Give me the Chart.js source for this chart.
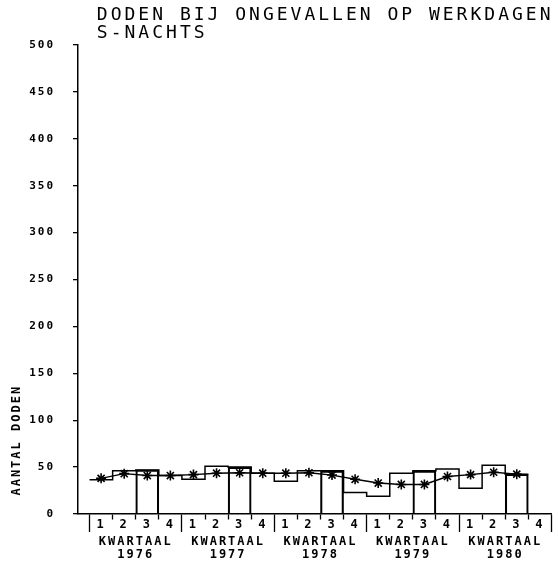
<!DOCTYPE html>
<html>
<head>
<meta charset="utf-8">
<script src="https://cdn.jsdelivr.net/npm/chart.js"></script>
<style>
html,body{margin:0;padding:0;background:#fff;}
canvas{display:block;}
</style>
</head>
<body>
<canvas id="c" width="558" height="562"></canvas>
<script>
// ---- data ----
const years = ['1976', '1977', '1978', '1979', '1980'];
const quarterLabels = ['1','2','3','4','1','2','3','4','1','2','3','4','1','2','3','4','1','2','3','4'];
// quarterly deaths (stepped line)
const quarterly = [36.5, 46, 47, 41,  37, 51, 50, 43.5,  35, 46, 46, 23,  19, 43.5, 46, 48,  27.5, 52, 42.5];
// smoothed trend (asterisks)
const smoothed  = [38, 43, 41, 41,  42, 43.5, 44, 43.5,  43.5, 44, 41.5, 37,  33, 31.5, 31.5, 40,  42, 44.5, 42.5];
const highlightQuarter = '3';
const yTickValues = [0, 50, 100, 150, 200, 250, 300, 350, 400, 450, 500];
const titleLines = ['DODEN BIJ ONGEVALLEN OP WERKDAGEN', 'S-NACHTS'];
const yTitle = 'AANTAL DODEN';
const groupLabel = 'KWARTAAL';

// ---- derived datasets ----
const stepPoints = quarterly.map((v, i) => ({x: i, y: v}))
  .concat([{x: quarterly.length, y: quarterly[quarterly.length - 1]}]);
const starPoints = smoothed.map((v, i) => ({x: i + 0.5, y: v}));
const boxPoints = quarterly.map((v, i) => quarterLabels[i] === highlightQuarter ? {x: i + 0.5, y: v} : null)
  .filter(p => p !== null);

const spacingPlugin = {
  id: 'letterSpacing',
  beforeDraw(chart) { chart.ctx.letterSpacing = '3px'; },
  afterDatasetsDraw(chart) { chart.ctx.letterSpacing = '2px'; },
  afterDraw(chart) { chart.ctx.letterSpacing = '0px'; }
};

Chart.defaults.font.family = "'DejaVu Sans Mono', monospace";
Chart.defaults.color = '#000';

new Chart(document.getElementById('c'), {
  type: 'line',
  data: {
    datasets: [
      {
        type: 'line', data: stepPoints, stepped: true,
        borderColor: '#000', borderWidth: 1.5, pointRadius: 0, fill: false
      },
      {
        type: 'line', data: starPoints,
        borderColor: '#000', borderWidth: 1.4, tension: 0, fill: false,
        pointStyle: 'star', pointRadius: 5, pointBorderWidth: 1.6,
        pointBorderColor: '#000', pointBackgroundColor: '#000'
      },
      {
        type: 'bar', data: boxPoints,
        backgroundColor: 'rgba(0,0,0,0)', borderColor: '#000', borderWidth: 1.5,
        barPercentage: 1, categoryPercentage: 1, borderSkipped: 'start'
      }
    ]
  },
  options: {
    responsive: false,
    animation: false,
    devicePixelRatio: 1,
    layout: {padding: {left: 0, right: 2, top: 0, bottom: 0}},
    plugins: {
      legend: {display: false},
      tooltip: {enabled: false},
      title: {
        display: true,
        text: titleLines.map(t => '       ' + t),
        align: 'start',
        color: '#000',
        font: {family: "'DejaVu Sans Mono', monospace", size: 18, weight: 'normal', lineHeight: 1},
        padding: {top: 6, bottom: 3}
      }
    },
    scales: {
      x: {
        type: 'linear', position: 'bottom', offset: false,
        min: -0.5, max: quarterLabels.length,
        afterBuildTicks: s => { s.ticks = quarterLabels.map((l, i) => ({value: i + 0.5})); },
        afterFit: s => { s.height = 16; },
        ticks: {
          autoSkip: false, maxRotation: 0, minRotation: 0, padding: -14, z: 1,
          color: '#000', font: {size: 12, weight: 'bold', lineHeight: 1.2},
          callback: (v, i) => quarterLabels[i]
        },
        grid: {
          offset: true, drawOnChartArea: false, drawTicks: true, tickLength: 18,
          color: '#000', tickColor: '#000', tickWidth: 1.3,
          tickBorderDash: c => (c.index === undefined || c.index % 4 === 0) ? [] : [5, 40]
        },
        border: {display: true, color: '#000', width: 1.5}
      },
      xy: {
        type: 'linear', position: 'bottom', offset: false,
        min: -0.5, max: quarterLabels.length,
        afterBuildTicks: s => { s.ticks = years.map((y, k) => ({value: 4 * k + 2})); },
        afterFit: s => { s.height = 32; },
        ticks: {
          autoSkip: false, maxRotation: 0, minRotation: 0, padding: 5.7, z: 1,
          color: '#000', font: {size: 12, weight: 'bold', lineHeight: 1.05},
          callback: (v, i) => [groupLabel, years[i]]
        },
        grid: {display: false, drawTicks: false, tickLength: 0},
        border: {display: false}
      },
      y: {
        min: 0, max: 500,
        afterBuildTicks: s => { s.ticks = yTickValues.map(v => ({value: v})); },
        afterFit: s => { s.width = 78; },
        ticks: {padding: 18, z: 1, color: '#000', font: {size: 11, weight: 'bold'}},
        grid: {drawOnChartArea: false, tickLength: 5, color: '#000', tickColor: '#000', lineWidth: 1.3, z: 1},
        border: {color: '#000', width: 1.5, z: 1},
        title: {
          display: true, text: '  ' + yTitle, align: 'start', color: '#000',
          font: {size: 12, weight: 'bold', lineHeight: 1.2},
          padding: {top: 10, bottom: 0}
        }
      }
    }
  },
  plugins: [spacingPlugin]
});
</script>
</body>
</html>
